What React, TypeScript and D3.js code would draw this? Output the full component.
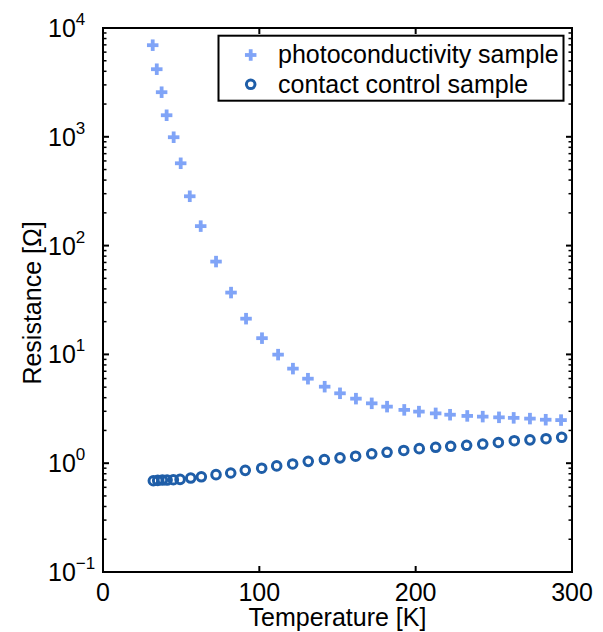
import React from 'react';
import * as d3 from 'd3';

const photoT = [31.8, 34.4, 37.5, 40.7, 45.2, 49.7, 55.5, 62.5, 72.3, 81.9, 91.5, 101.7, 112.0, 121.5, 131.1, 141.8, 151.6, 161.8, 171.9, 181.7, 192.7, 202.1, 212.8, 222.0, 233.0, 242.9, 253.3, 262.7, 273.1, 283.2, 293.0];
const photoR = [6950, 4180, 2570, 1578, 991, 571, 284, 151, 71.3, 37.0, 21.3, 14.1, 9.95, 7.40, 5.98, 5.05, 4.39, 3.92, 3.55, 3.31, 3.09, 2.98, 2.87, 2.79, 2.72, 2.68, 2.64, 2.61, 2.57, 2.51, 2.49];
const contactT = [32.2, 35.0, 38.0, 41.0, 45.0, 49.3, 56.1, 62.9, 72.3, 81.7, 91.0, 101.5, 111.1, 121.3, 131.3, 141.6, 151.6, 161.6, 171.9, 181.7, 192.4, 202.3, 212.8, 222.4, 232.6, 242.9, 252.9, 263.1, 273.1, 283.4, 293.4];
const contactR = [0.69, 0.695, 0.70, 0.70, 0.705, 0.71, 0.73, 0.75, 0.785, 0.813, 0.86, 0.90, 0.944, 0.984, 1.04, 1.08, 1.12, 1.16, 1.22, 1.26, 1.31, 1.36, 1.40, 1.43, 1.46, 1.50, 1.55, 1.61, 1.64, 1.68, 1.73];
const xTicks = [0, 100, 200, 300];
const yTickExps = [-1, 0, 1, 2, 3, 4];
const legendLabels = ['photoconductivity sample', 'contact control sample'];
const xLabel = 'Temperature [K]';
const yLabel = 'Resistance [Ω]';

const W = 603, H = 632;
const L = 103, R = 572, T = 28, B = 572;
const PLUS = '#80a4f7';
const CIRC = '#1f5ea8';
const FONT = '"Liberation Sans", Arial, Helvetica, sans-serif';
const FS = 25;

function Plus({ cx, cy, s = 11.5, t = 3.8 }: { cx: number; cy: number; s?: number; t?: number }) {
  return (
    <g fill={PLUS}>
      <rect x={cx - s / 2} y={cy - t / 2} width={s} height={t} />
      <rect x={cx - t / 2} y={cy - s / 2} width={t} height={s} />
    </g>
  );
}

export default function App() {
  const x = d3.scaleLinear().domain([0, 300]).range([L, R]);
  const y = d3.scaleLog().domain([0.1, 10000]).range([B, T]);

  const minor: number[] = [];
  for (let e = -1; e < 4; e++) {
    for (let m = 2; m <= 9; m++) minor.push(m * Math.pow(10, e));
  }

  return (
    <svg width={W} height={H} style={{ position: 'absolute', left: 0, top: 0, background: '#fff' }} fontFamily={FONT}>
      <rect x={0} y={0} width={W} height={H} fill="#fff" />
      {minor.map((v, i) => (
        <g key={'m' + i} stroke="#000" strokeWidth={1.5}>
          <line x1={L} x2={L + 3.5} y1={y(v)} y2={y(v)} />
          <line x1={R} x2={R - 3.5} y1={y(v)} y2={y(v)} />
        </g>
      ))}
      {yTickExps.map((e) => (
        <g key={'y' + e} stroke="#000" strokeWidth={2}>
          <line x1={L} x2={L + 6} y1={y(Math.pow(10, e))} y2={y(Math.pow(10, e))} />
          <line x1={R} x2={R - 6} y1={y(Math.pow(10, e))} y2={y(Math.pow(10, e))} />
        </g>
      ))}
      {xTicks.map((t) => (
        <g key={'x' + t} stroke="#000" strokeWidth={2}>
          <line x1={x(t)} x2={x(t)} y1={B} y2={B - 6} />
          <line x1={x(t)} x2={x(t)} y1={T} y2={T + 6} />
        </g>
      ))}
      <rect x={L} y={T} width={R - L} height={B - T} fill="none" stroke="#000" strokeWidth={2} />

      {contactT.map((t, i) => (
        <circle key={'c' + i} cx={x(t)} cy={y(contactR[i])} r={4.3} fill="none" stroke={CIRC} strokeWidth={3} />
      ))}
      {photoT.map((t, i) => (
        <Plus key={'p' + i} cx={x(t)} cy={y(photoR[i])} />
      ))}

      {xTicks.map((t) => (
        <text key={'xl' + t} x={x(t)} y={601} textAnchor="middle" fontSize={FS} fill="#000">{t}</text>
      ))}
      {yTickExps.map((e) => (
        <text key={'yl' + e} x={48} y={y(Math.pow(10, e)) + 9} fontSize={FS} fill="#000">
          10
          <tspan dy={-12} fontSize={17}>{e < 0 ? '\u2212' + Math.abs(e) : String(e)}</tspan>
        </text>
      ))}
      <text x={(L + R) / 2} y={626} textAnchor="middle" fontSize={FS} fill="#000">{xLabel}</text>
      <text transform={`translate(41,${(T + B) / 2 + 3}) rotate(-90)`} textAnchor="middle" fontSize={FS} fill="#000">{yLabel}</text>

      <rect x={218.5} y={35.7} width={345} height={65} fill="#fff" stroke="#000" strokeWidth={2} />
      <Plus cx={250.7} cy={55} />
      <circle cx={250.7} cy={84.3} r={4.3} fill="none" stroke={CIRC} strokeWidth={3} />
      <text x={278} y={63} fontSize={FS} fill="#000">{legendLabels[0]}</text>
      <text x={278} y={92.5} fontSize={FS} fill="#000">{legendLabels[1]}</text>
    </svg>
  );
}
